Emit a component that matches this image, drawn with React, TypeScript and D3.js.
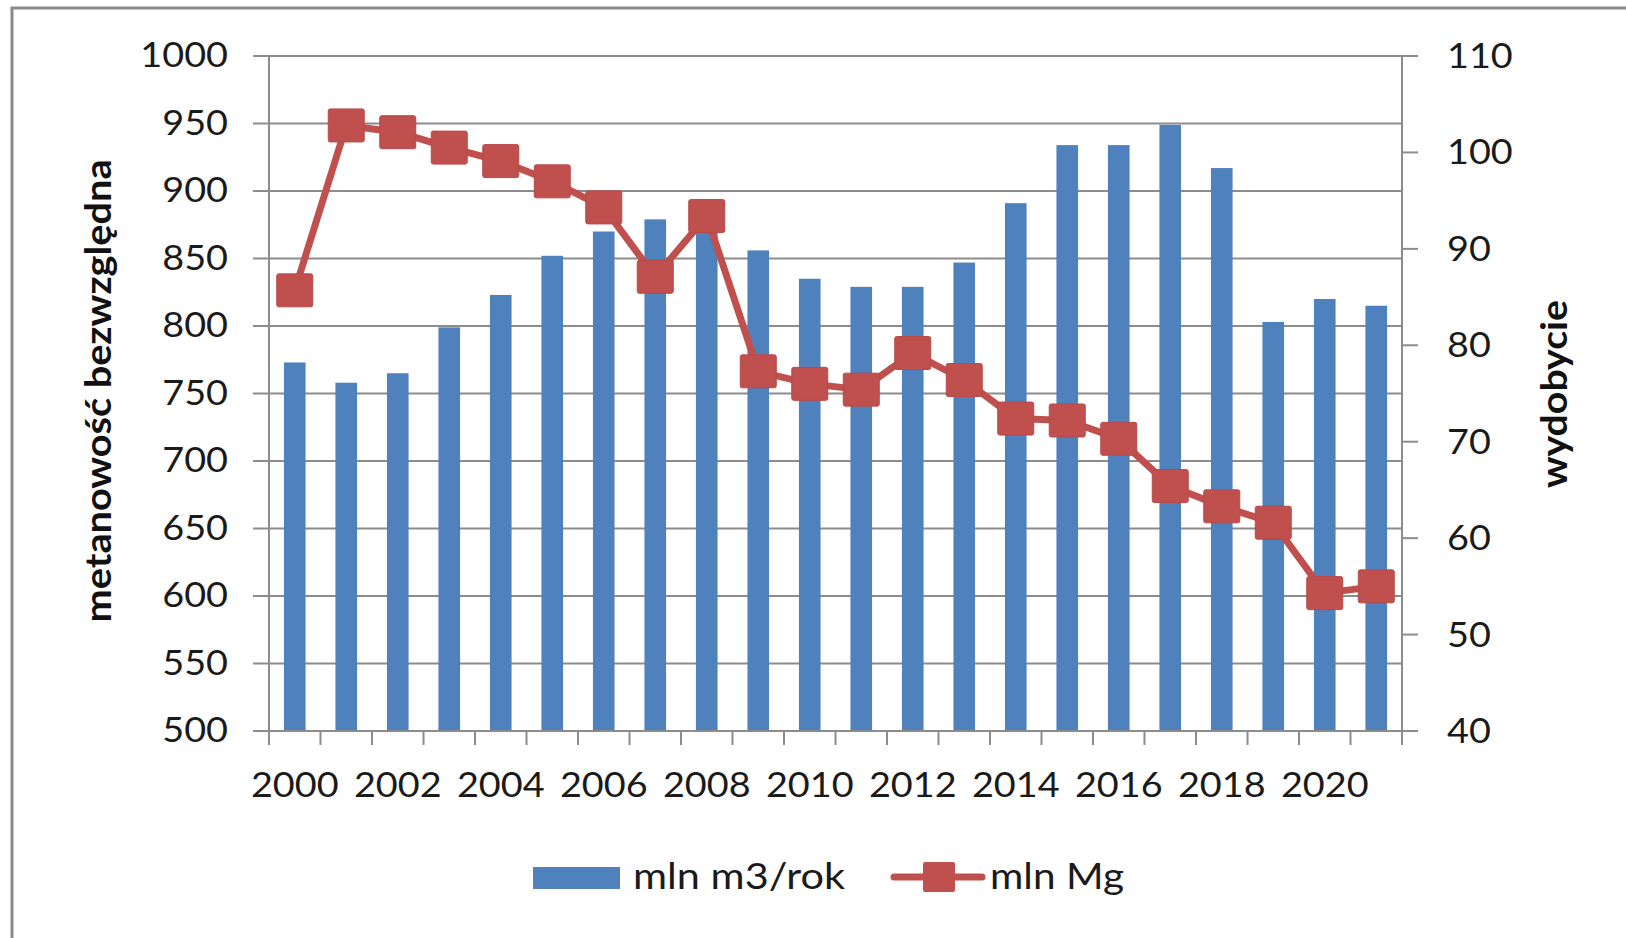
import * as d3 from "d3";

// years on the category axis
const years = [
  2000, 2001, 2002, 2003, 2004, 2005, 2006, 2007, 2008, 2009, 2010,
  2011, 2012, 2013, 2014, 2015, 2016, 2017, 2018, 2019, 2020, 2021,
];
// metanowość bezwzględna, mln m3/rok (bars, left axis)
const methane = [
  773, 758, 765, 799, 823, 852, 870, 879, 873, 856, 835,
  829, 829, 847, 891, 934, 934, 949, 917, 803, 820, 815,
];
// wydobycie, mln Mg (line, right axis)
const output = [
  85.7, 102.8, 102.1, 100.5, 99.1, 97.0, 94.3, 87.1, 93.4, 77.3, 76.0,
  75.4, 79.2, 76.4, 72.4, 72.2, 70.3, 65.4, 63.3, 61.6, 54.3, 55.0,
];
const leftTicks = [500, 550, 600, 650, 700, 750, 800, 850, 900, 950, 1000];
const rightTicks = [40, 50, 60, 70, 80, 90, 100, 110];
const yearLabels = [2000, 2002, 2004, 2006, 2008, 2010, 2012, 2014, 2016, 2018, 2020];

const W = 1626;
const H = 938;
const plot = { left: 269, right: 1402, top: 56, bottom: 731 };
const BLUE = "#4F81BD";
const RED = "#C0504D";
const GRID = "#8c8c8c";
const FONT = "Lato, 'Open Sans', sans-serif";
const SX = 1.08; // the picture is a little wider than tall

export default function App() {
  const x = d3.scaleBand<number>().domain(years).range([plot.left, plot.right]).padding(0);
  const yL = d3.scaleLinear().domain([500, 1000]).range([plot.bottom, plot.top]);
  const yR = d3.scaleLinear().domain([40, 110]).range([plot.bottom, plot.top]);
  const cx = (yr: number) => (x(yr) ?? 0) + x.bandwidth() / 2;
  const barW = x.bandwidth() * 0.42;

  const line = d3
    .line<number>()
    .x((_, i) => cx(years[i]))
    .y((d) => yR(d));

  const boundaries = years.map((yr) => x(yr) ?? 0).concat([plot.right]);

  return (
    <svg
      width={W}
      height={H}
      style={{ position: "absolute", left: 0, top: 0, background: "#fff" }}
      fontFamily={FONT}
    >
      <rect x={12} y={8} width={W + 20} height={H + 20} fill="#fff" stroke="#8a8a8a" strokeWidth={3} />

      {/* gridlines + left ticks */}
      {leftTicks.map((t) => (
        <line key={"g" + t} x1={plot.left - 16} x2={plot.right} y1={yL(t)} y2={yL(t)} stroke={GRID} strokeWidth={2} />
      ))}
      {/* right ticks */}
      {rightTicks.map((t) => (
        <line key={"r" + t} x1={plot.right} x2={plot.right + 16} y1={yR(t)} y2={yR(t)} stroke={GRID} strokeWidth={2} />
      ))}
      {/* bottom ticks */}
      {boundaries.map((b, i) => (
        <line key={"b" + i} x1={b} x2={b} y1={plot.bottom} y2={plot.bottom + 14} stroke={GRID} strokeWidth={2} />
      ))}
      <line x1={plot.left} x2={plot.left} y1={plot.top} y2={plot.bottom + 14} stroke={GRID} strokeWidth={2} />
      <line x1={plot.right} x2={plot.right} y1={plot.top} y2={plot.bottom + 14} stroke={GRID} strokeWidth={2} />

      {/* bars */}
      {methane.map((v, i) => (
        <rect
          key={"bar" + i}
          x={cx(years[i]) - barW / 2}
          y={yL(v)}
          width={barW}
          height={yL(500) - yL(v)}
          fill={BLUE}
        />
      ))}
      <line x1={plot.left - 16} x2={plot.right + 16} y1={plot.bottom} y2={plot.bottom} stroke={GRID} strokeWidth={2} />

      {/* line + markers */}
      <path d={line(output) ?? ""} fill="none" stroke={RED} strokeWidth={7} strokeLinejoin="round" />
      {output.map((v, i) => (
        <rect
          key={"m" + i}
          x={cx(years[i]) - 18}
          y={yR(v) - 16.5}
          width={36}
          height={33}
          rx={2}
          fill={RED}
          stroke="#b9494a"
          strokeWidth={1}
        />
      ))}

      {/* left tick labels */}
      {leftTicks.map((t) => (
        <text key={"lt" + t} transform={`translate(228,${yL(t) + 11}) scale(${SX},1)`} textAnchor="end" fontSize={35} fill="#1a1a1a">
          {t}
        </text>
      ))}
      {/* right tick labels */}
      {rightTicks.map((t) => (
        <text key={"rt" + t} transform={`translate(1447,${yR(t) + 12}) scale(${SX},1)`} textAnchor="start" fontSize={35} fill="#1a1a1a">
          {t}
        </text>
      ))}
      {/* x labels */}
      {yearLabels.map((yr) => (
        <text key={"xl" + yr} transform={`translate(${cx(yr)},797) scale(${SX},1)`} textAnchor="middle" fontSize={35} fill="#1a1a1a">
          {yr}
        </text>
      ))}

      {/* axis titles */}
      <text
        transform={`translate(111,391) scale(${SX},1) rotate(-90)`}
        textAnchor="middle"
        fontSize={34}
        fontWeight="bold"
        fill="#111"
        textLength={463}
        lengthAdjust="spacingAndGlyphs"
      >
        metanowość bezwzględna
      </text>
      <text
        transform={`translate(1567,394) scale(${SX},1) rotate(-90)`}
        textAnchor="middle"
        fontSize={34}
        fontWeight="bold"
        fill="#111"
        textLength={188}
        lengthAdjust="spacingAndGlyphs"
      >
        wydobycie
      </text>

      {/* legend */}
      <rect x={533} y={867} width={87} height={22} fill={BLUE} />
      <text x={633} y={889} fontSize={36} fill="#1a1a1a" textLength={212} lengthAdjust="spacingAndGlyphs">
        mln m3/rok
      </text>
      <line x1={894} x2={982} y1={877} y2={877} stroke={RED} strokeWidth={7} strokeLinecap="round" />
      <rect x={923} y={862} width={32} height={30} rx={2} fill={RED} />
      <text x={990} y={889} fontSize={36} fill="#1a1a1a" textLength={134} lengthAdjust="spacingAndGlyphs">
        mln Mg
      </text>
    </svg>
  );
}
